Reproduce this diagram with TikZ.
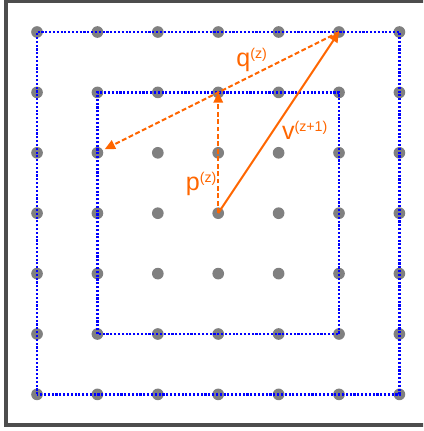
\documentclass[tikz,border=0pt]{standalone}
\usepackage{fontspec}
\setmainfont{Liberation Sans}
\usetikzlibrary{arrows.meta}
\definecolor{figorange}{RGB}{255,102,0}
\definecolor{figgray}{RGB}{128,128,128}
\definecolor{figframe}{RGB}{77,77,77}
\newcommand{\nG}{6}
\newcommand{\padF}{0.51}
\newcommand{\supR}{4.1pt}
\tikzset{
  gdot/.style   ={circle,draw=none,fill=figgray,inner sep=0pt,minimum size=5.5pt},
  fgsq/.style   ={blue,line width=1.05pt,dash pattern=on 1pt off 0.8pt},
  fgframe/.style={figframe,line width=1.65pt},
  fgline/.style ={figorange,line width=0.95pt},
  fgarr/.style  ={fgline,-{Triangle[length=4.8pt,width=4.4pt]}},
  oedge/.style  ={fgarr},
  dedge/.style  ={fgarr,dash pattern=on 2.3pt off 1.2pt},
  olab/.style   ={text=figorange,inner sep=0pt,anchor=base west,font=\fontsize{11.8}{14}\selectfont},
}
\newcommand{\vlab}[2]{#1\raisebox{\supR}{\fontsize{6.7}{8}\selectfont #2}}

\begin{document}
\begin{tikzpicture}
  \useasboundingbox (-0.613,-0.606) rectangle (6.391,6.530);
  \clip (-0.613,-0.606) rectangle (6.391,6.530);
  \draw[fgframe] (-\padF,-\padF) rectangle (\nG+\padF,\nG+\padF);
  % grid of points
  \foreach \i in {0,...,\nG}{ \foreach \j in {0,...,\nG}{ \node[gdot] (d\i\j) at (\i,\j) {}; } }
  \draw[fgsq] (d00.center) rectangle (d66.center);
  \draw[fgsq] (d11.center) rectangle (d55.center);
  % steps
  \draw[oedge] (d33.center) -- (d56.center);
  \draw[dedge] (d33.center) -- (d35.center);
  \draw[dedge,shorten >=3.9pt] (d56.center) -- (d14.center);
  \node[olab] (lq) at (3.295,5.421) {\vlab{q}{(z)}};
  \node[olab] (lp) at (2.457,3.368) {\vlab{p}{(z)}};
  \node[olab] (lv) at (4.050,4.212) {\vlab{v}{(z+1)}};
\end{tikzpicture}
\end{document}
